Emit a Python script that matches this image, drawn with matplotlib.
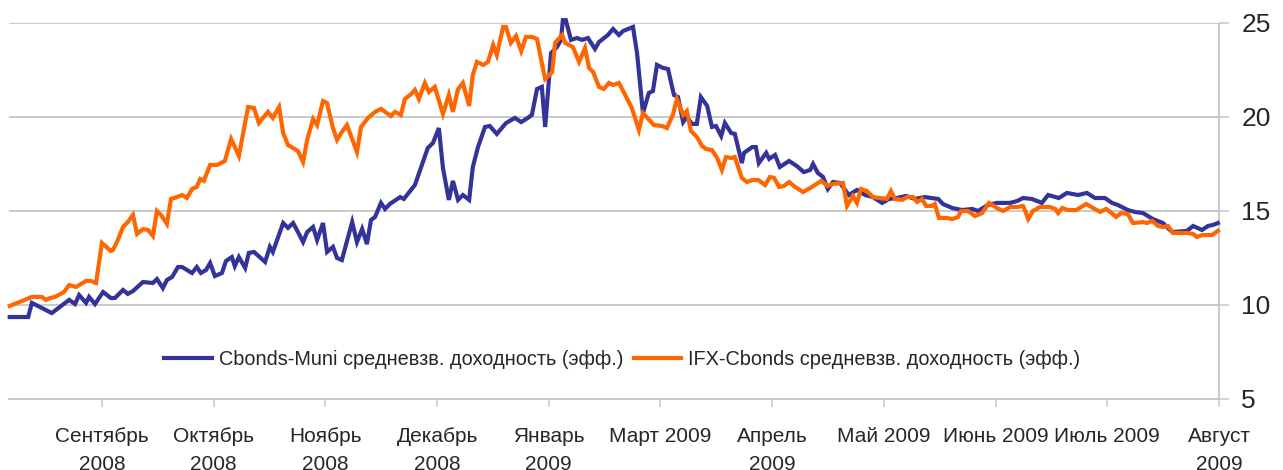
import matplotlib
matplotlib.use("Agg")
import numpy as np
import matplotlib.pyplot as plt

# ---- данные (x — дни от 1 сентября 2008, y — доходность, %) ----
muni_days = [-25, -20, -19, -16.3, -13.6, -8.9, -7.3, -6.2, -4.3, -3.5, -1.9, 0.3, 2.4, 3.5,
             5.7, 7.0, 8.4, 11.1, 13.8, 14.9, 16.5, 17.6, 19.0, 20.6, 21.7, 24.4, 25.7, 26.8,
             28.2, 29.3, 30.6, 32.5, 33.6, 35.2, 36.0, 37.1, 38.8, 39.8, 41.2, 44.2, 45.5,
             46.3, 49.1, 50.4, 51.8, 53.1, 54.5, 55.6, 57.2, 58.3, 59.9, 61.0, 62.6, 63.7,
             65.0, 67.8, 69.1, 70.5, 71.8, 72.9, 74.0, 75.6, 76.7, 78.0, 80.8, 81.8, 83.5,
             84.8, 88.3, 89.7, 91.3, 92.4, 94.0, 95.1, 96.5, 97.8, 99.5, 100.5, 101.9, 103.8,
             105.1, 107.0, 109.5, 111.9, 113.6, 115.4, 116.5, 117.9, 119.2, 120.1, 121.7,
             123.3, 124.4, 124.9, 125.7, 127.1, 128.7, 130.1, 131.7, 133.6, 134.7, 137.1,
             138.5, 140.1, 141.2, 143.9, 145.0, 146.6, 148.2, 149.3, 150.4, 152.0, 153.4,
             155.0, 156.1, 157.5, 158.5, 159.9, 161.2, 162.3, 164.0, 165.3, 166.4, 167.8,
             168.8, 170.5, 171.5, 173.4, 174.0, 176.2, 177.2, 178.0, 180.0, 180.8, 182.4,
             183.7, 186.2, 188.3, 190.2, 191.9, 192.7, 194.0, 195.4, 196.7, 198.1, 200.0,
             202.4, 204.6, 206.8, 208.9, 211.4, 213.3, 215.4, 217.9, 220.3, 223.0, 226.6,
             227.9, 230.4, 233.1, 235.8, 237.4, 240.1, 242.5, 246.1, 248.0, 249.6, 252.0,
             254.7, 256.4, 259.3, 261.5, 264.5, 266.9, 269.1, 271.8, 273.7, 275.3, 278.0,
             279.9, 282.1, 284.8, 287.5, 289.4, 290.2, 294.0, 295.7, 298.1, 299.7, 301.1,
             302.4]
muni_vals = [9.36, 9.36, 10.11, 9.84, 9.57, 10.27, 10.05, 10.53, 10.11, 10.43, 10.05, 10.69,
             10.37, 10.37, 10.80, 10.59, 10.74, 11.22, 11.17, 11.38, 10.90, 11.33, 11.49, 12.02,
             12.02, 11.70, 12.02, 11.70, 11.86, 12.23, 11.54, 11.70, 12.34, 12.55, 12.07, 12.55,
             11.97, 12.77, 12.82, 12.29, 13.09, 12.82, 14.36, 14.10, 14.36, 13.88, 13.35, 13.88,
             14.15, 13.46, 14.36, 12.82, 13.09, 12.50, 12.39, 14.41, 13.35, 14.04, 13.24, 14.52,
             14.68, 15.43, 15.11, 15.37, 15.74, 15.64, 16.06, 16.38, 18.35, 18.62, 19.41, 17.29,
             15.59, 16.60, 15.59, 15.85, 15.59, 17.34, 18.40, 19.47, 19.52, 19.10, 19.68, 19.95,
             19.73, 19.95, 20.11, 21.49, 21.60, 19.47, 23.40, 23.72, 24.10, 25.15, 25.15, 24.10,
             24.20, 24.10, 24.20, 23.62, 23.99, 24.36, 24.68, 24.36, 24.57, 24.79, 23.40, 20.21,
             21.28, 21.38, 22.77, 22.61, 22.55, 21.17, 21.06, 19.73, 20.00, 19.63, 19.63, 21.06,
             20.59, 19.47, 19.52, 18.99, 19.68, 19.15, 19.10, 17.55, 18.09, 18.40, 18.40, 17.55,
             18.09, 17.77, 17.98, 17.34, 17.66, 17.39, 17.07, 17.18, 17.50, 17.02, 16.81, 16.17,
             16.54, 16.49, 15.85, 16.12, 15.85, 15.74, 15.43, 15.64, 15.69, 15.80, 15.64, 15.74,
             15.64, 15.37, 15.16, 15.05, 15.11, 15.00, 15.32, 15.43, 15.43, 15.53, 15.69, 15.64,
             15.43, 15.85, 15.69, 15.96, 15.85, 15.96, 15.69, 15.69, 15.43, 15.32, 15.05, 14.95,
             14.89, 14.57, 14.36, 13.99, 13.88, 13.94, 14.20, 13.99, 14.20, 14.26, 14.36]

ifx_days = [-25, -21.7, -19.0, -16.3, -15.2, -14.1, -12.7, -10.3, -8.9, -7.0, -4.3, -3.0, -1.6,
            -1.1, 0, 2.4, 3.0, 4.3, 5.7, 7.0, 8.4, 9.5, 11.1, 12.5, 13.8, 14.9, 16.0, 17.6,
            18.7, 20.3, 21.7, 23.0, 24.4, 25.7, 26.6, 27.6, 29.3, 31.2, 33.3, 35.0, 37.1, 39.6,
            41.2, 42.5, 45.0, 46.3, 48.0, 49.1, 50.4, 53.1, 54.5, 55.6, 57.2, 58.3, 59.9, 61.0,
            62.6, 63.7, 65.0, 66.4, 69.1, 70.2, 72.1, 74.0, 75.6, 78.3, 79.4, 81.0, 82.1, 83.5,
            84.8, 85.9, 87.5, 88.6, 90.2, 92.4, 94.0, 95.1, 96.5, 97.8, 99.5, 100.5, 101.6,
            103.3, 104.6, 106.0, 107.0, 108.7, 109.5, 110.8, 112.2, 113.6, 114.9, 116.5, 117.9,
            119.2, 120.1, 122.0, 122.8, 124.7, 125.5, 127.6, 129.3, 130.9, 132.0, 133.1, 134.7,
            136.0, 137.4, 138.5, 140.1, 143.6, 145.5, 146.6, 149.6, 151.8, 153.1, 154.7, 155.8,
            157.5, 158.5, 159.6, 161.2, 162.6, 163.7, 165.3, 166.7, 168.0, 169.1, 170.5, 171.5,
            173.4, 174.8, 176.2, 177.8, 179.7, 181.0, 182.1, 183.5, 184.8, 186.2, 187.8, 190.0,
            191.9, 194.9, 196.7, 198.1, 200.8, 201.9, 203.5, 204.6, 205.7, 207.3, 208.9, 212.7,
            213.8, 214.9, 216.8, 218.2, 219.8, 220.9, 222.2, 223.3, 224.9, 225.7, 226.8, 229.0,
            230.4, 232.0, 232.8, 234.7, 236.6, 238.5, 240.4, 242.5, 244.2, 246.1, 248.0, 249.6,
            250.1, 251.0, 252.3, 254.2, 256.9, 258.3, 259.1, 260.2, 261.8, 264.0, 266.7, 268.6,
            270.5, 272.1, 273.2, 274.8, 276.2, 278.0, 279.4, 282.1, 283.2, 284.6, 286.2, 287.5,
            288.9, 290.2, 294.0, 295.7, 296.7, 298.1, 300.8, 302.4]
ifx_vals = [9.95, 10.21, 10.43, 10.43, 10.27, 10.37, 10.43, 10.69, 11.06, 10.96, 11.28, 11.28,
            11.17, 11.86, 13.30, 12.87, 12.93, 13.46, 14.15, 14.41, 14.79, 13.78, 14.04, 13.99,
            13.67, 15.00, 14.79, 14.31, 15.64, 15.74, 15.85, 15.69, 16.17, 16.28, 16.70, 16.60,
            17.45, 17.45, 17.66, 18.83, 17.93, 20.53, 20.48, 19.68, 20.27, 19.95, 20.53, 19.15,
            18.51, 18.19, 17.61, 18.78, 19.89, 19.57, 20.85, 20.74, 19.41, 18.78, 19.20, 19.57,
            18.14, 19.47, 19.95, 20.27, 20.43, 20.05, 20.27, 20.11, 20.96, 21.17, 21.44, 20.96,
            21.81, 21.33, 21.60, 20.16, 21.17, 20.27, 21.49, 21.81, 20.59, 22.23, 22.93, 22.77,
            22.93, 23.83, 23.30, 24.79, 24.79, 23.94, 24.31, 23.51, 24.26, 24.26, 24.15, 22.87,
            22.02, 22.39, 23.94, 24.36, 23.94, 23.72, 22.93, 23.67, 22.61, 22.39, 21.60, 21.49,
            21.81, 21.70, 21.81, 20.48, 19.31, 20.21, 19.57, 19.52, 19.41, 20.11, 20.96, 20.11,
            20.32, 19.26, 18.94, 18.46, 18.30, 18.24, 17.82, 17.18, 17.87, 17.82, 17.87, 16.76,
            16.54, 16.65, 16.65, 16.38, 16.81, 16.76, 16.28, 16.33, 16.54, 16.28, 16.01, 16.22,
            16.60, 16.33, 16.44, 16.49, 15.27, 15.80, 15.43, 16.17, 16.06, 15.74, 15.64, 16.06,
            15.64, 15.59, 15.74, 15.74, 15.48, 15.64, 15.27, 15.27, 15.37, 14.63, 14.63, 14.57,
            14.68, 15.00, 15.00, 14.73, 14.89, 15.43, 15.16, 15.00, 15.21, 15.21, 15.27, 15.05,
            14.57, 15.00, 15.21, 15.21, 15.11, 14.89, 15.16, 15.05, 15.05, 15.37, 15.16, 14.95,
            15.11, 14.95, 14.68, 14.89, 14.84, 14.36, 14.41, 14.36, 14.47, 14.20, 14.15, 14.20,
            13.83, 13.83, 13.78, 13.62, 13.72, 13.72, 13.94]

month_labels = ["Сентябрь\n2008", "Октябрь\n2008", "Ноябрь\n2008", "Декабрь\n2008",
                "Январь\n2009", "Март 2009", "Апрель\n2009", "Май 2009", "Июнь 2009",
                "Июль 2009", "Август\n2009"]
y_ticks = [5, 10, 15, 20, 25]

label_muni = "Cbonds-Muni средневзв. доходность (эфф.)"
label_ifx = "IFX-Cbonds средневзв. доходность (эфф.)"

# ---- оформление ----
plt.rcParams["font.family"] = ["Liberation Sans", "DejaVu Sans"]

BLUE = "#333399"
ORANGE = "#ff6600"
GRID = "#c6c6c6"
TEXT = "#262626"

fig = plt.figure(figsize=(12.83, 4.70), dpi=100)
ax = fig.add_axes([0.0070, 0.1511, 0.9431, 0.8000])

ax.plot(muni_days, muni_vals, color=BLUE, lw=3.0, label=label_muni, clip_on=False,
        solid_joinstyle="miter", zorder=3)
ax.plot(ifx_days, ifx_vals, color=ORANGE, lw=3.0, label=label_ifx, clip_on=False,
        solid_joinstyle="miter", zorder=3)

ax.set_xlim(-25.2, 302.7)
ax.set_ylim(5, 25)

tick_pos = [30.27 * k for k in range(len(month_labels))]
ax.set_xticks(tick_pos)
ax.set_xticklabels(month_labels, fontsize=15, color=TEXT, linespacing=1.6)
ax.tick_params(axis="x", length=6, width=1.1, color=GRID, pad=14)

ax.yaxis.tick_right()
ax.set_yticks(y_ticks)
ax.set_yticklabels([str(v) for v in y_ticks], fontsize=19, color=TEXT)
ax.tick_params(axis="y", length=7, width=1.1, color=GRID, pad=9)

ax.grid(axis="y", color=GRID, lw=1.3)
ax.set_axisbelow(True)
for side in ["left", "top"]:
    ax.spines[side].set_visible(False)
for side in ["right", "bottom"]:
    ax.spines[side].set_color(GRID)
    ax.spines[side].set_linewidth(1.3)

leg = ax.legend(loc="center", bbox_to_anchor=(0.507, 0.104), ncol=2, frameon=False,
                fontsize=14.3, handlelength=2.4, handletextpad=0.35, columnspacing=0.5)
for t in leg.get_texts():
    t.set_color(TEXT)

fig.savefig("out.png", dpi=100)
